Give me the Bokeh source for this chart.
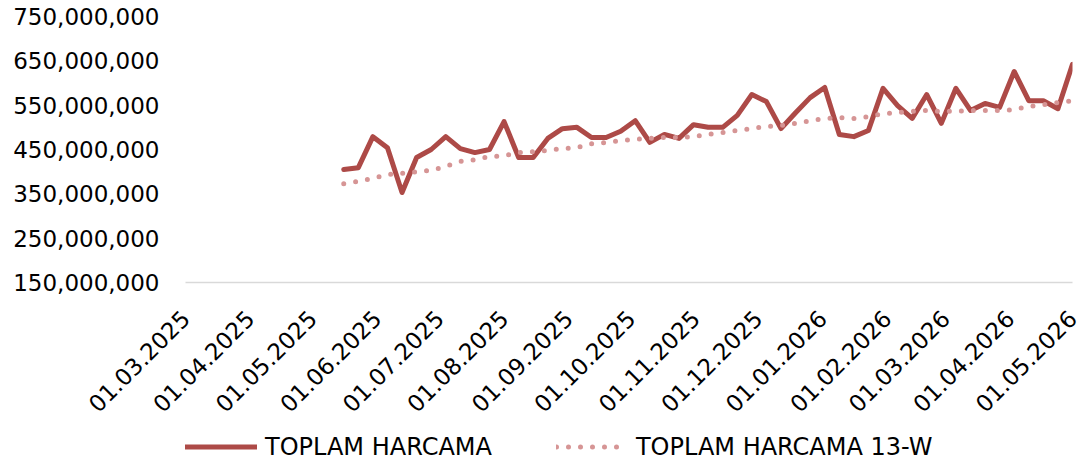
import math
import pandas as pd
from bokeh.plotting import figure
from bokeh.layouts import column
from bokeh.models import (ColumnDataSource, Range1d, FixedTicker, NumeralTickFormatter,
                          DatetimeTickFormatter, Legend, LegendItem)
from bokeh.embed import file_html
from bokeh.resources import INLINE

# ---- data -------------------------------------------------------------
week_start = "2025-05-16"
n_weeks = 51
dates = pd.date_range(week_start, periods=n_weeks, freq="7D")

# TOPLAM HARCAMA (millions)
toplam_harcama_m = [
    405, 409, 479, 454, 353, 432, 450, 479, 452, 443,
    450, 513, 432, 432, 475, 497, 500, 477, 477, 491,
    515, 466, 484, 475, 506, 500, 500, 527, 574, 558,
    497, 533, 567, 590, 484, 479, 493, 588, 549, 520,
    574, 509, 588, 538, 554, 545, 626, 560, 560, 542,
    642,
]
# TOPLAM HARCAMA 13-W (millions)
toplam_harcama_13w_m = [
    373, 378, 385, 394, 396, 400, 403, 412, 423, 427,
    434, 436, 443, 445, 448, 452, 454, 463, 466, 470,
    473, 475, 477, 477, 479, 484, 488, 493, 497, 502,
    504, 509, 515, 520, 522, 520, 524, 531, 533, 536,
    538, 536, 536, 538, 538, 538, 540, 547, 551, 556,
    560,
]

x_tick_labels = ["01.03.2025", "01.04.2025", "01.05.2025", "01.06.2025", "01.07.2025",
                 "01.08.2025", "01.09.2025", "01.10.2025", "01.11.2025", "01.12.2025",
                 "01.01.2026", "01.02.2026", "01.03.2026", "01.04.2026", "01.05.2026"]
y_ticks = [150_000_000, 250_000_000, 350_000_000, 450_000_000,
           550_000_000, 650_000_000, 750_000_000]

series_names = ["TOPLAM HARCAMA", "TOPLAM HARCAMA 13-W"]

# ---- build -------------------------------------------------------------
src = ColumnDataSource(dict(
    x=dates,
    total=[v * 1_000_000 for v in toplam_harcama_m],
    avg=[v * 1_000_000 for v in toplam_harcama_13w_m],
))

tick_dates = pd.to_datetime(x_tick_labels, format="%d.%m.%Y")
tick_ms = [int(d.value // 10**6) for d in tick_dates]

FONT = "DejaVu Sans"
FS = "23px"
SOLID = dict(line_color="#AD4A47", line_width=5, line_join="round", line_cap="round")
DOTTED = dict(line_color="#D69595", line_width=5, line_dash="0 12",
              line_cap="round", line_join="round")

MAIN_H = 426
LEG_H = 41

p = figure(width=1091, height=MAIN_H, x_axis_type="datetime",
           output_backend="svg", toolbar_location=None,
           x_range=Range1d(tick_dates[0], tick_dates[-1]),
           y_range=Range1d(y_ticks[0], y_ticks[-1]),
           min_border_left=185, min_border_right=19,
           min_border_top=16, min_border_bottom=MAIN_H - 282)
p.outline_line_color = None
p.xgrid.visible = False
p.ygrid.visible = False

p.line("x", "total", source=src, **SOLID)
p.line("x", "avg", source=src, **DOTTED)

# y axis
p.yaxis.ticker = FixedTicker(ticks=y_ticks)
p.yaxis.formatter = NumeralTickFormatter(format="0,0")
p.yaxis.axis_line_color = None
p.yaxis.major_tick_line_color = None
p.yaxis.minor_tick_line_color = None
p.yaxis.major_label_standoff = 20
p.yaxis.major_label_text_font = FONT
p.yaxis.major_label_text_font_size = FS
p.yaxis.major_label_text_color = "#000000"

# x axis
p.xaxis.ticker = FixedTicker(ticks=tick_ms)
fmt = "%d.%m.%Y"
p.xaxis.formatter = DatetimeTickFormatter(
    microseconds=fmt, milliseconds=fmt, seconds=fmt, minsec=fmt, minutes=fmt,
    hourmin=fmt, hours=fmt, days=fmt, months=fmt, years=fmt)
p.xaxis.major_label_orientation = math.pi / 4
p.xaxis.axis_line_color = "#D9D9D9"
p.xaxis.axis_line_width = 1.5
p.xaxis.major_tick_line_color = None
p.xaxis.minor_tick_line_color = None
p.xaxis.major_label_standoff = 26
p.xaxis.major_label_text_font = FONT
p.xaxis.major_label_text_font_size = FS
p.xaxis.major_label_text_color = "#000000"

# ---- legend strip (same series, drawn out of view, only the legend shows) ----
leg = figure(width=1091, height=LEG_H, x_axis_type="datetime",
             output_backend="svg", toolbar_location=None,
             x_range=p.x_range, y_range=Range1d(0, 1),
             x_axis_location=None, y_axis_location=None,
             min_border_left=0, min_border_right=0, min_border_top=0, min_border_bottom=0)
leg.outline_line_color = None
leg.xgrid.visible = False
leg.ygrid.visible = False
r_solid = leg.line("x", "total", source=src, **SOLID)
r_dotted = leg.line("x", "avg", source=src, **DOTTED)

legend = Legend(items=[LegendItem(label=series_names[0], renderers=[r_solid]),
                       LegendItem(label=series_names[1], renderers=[r_dotted])],
                location=(0, 0), orientation="horizontal",
                padding=0, margin=0, spacing=64, border_line_color=None,
                background_fill_alpha=0, glyph_width=72, glyph_height=LEG_H,
                label_height=LEG_H, label_standoff=8,
                label_text_font=FONT, label_text_font_size="24px",
                label_text_color="#000000")
leg.add_layout(legend, "center")

layout = column(p, leg, spacing=0)
open("out.html", "w").write(file_html(layout, INLINE))
